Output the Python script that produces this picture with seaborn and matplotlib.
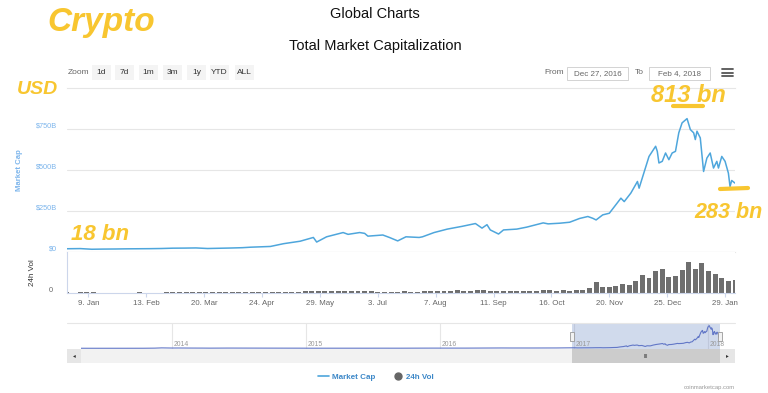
import pandas as pd
import matplotlib.pyplot as plt
import matplotlib.dates as mdates
from matplotlib.lines import Line2D
from matplotlib.patches import Rectangle
from matplotlib.transforms import ScaledTranslation, blended_transform_factory
import seaborn as sns

# market cap (billions USD)
cap_dates = ['2016-12-27', '2017-01-04', '2017-01-11', '2017-01-18', '2017-01-25',
             '2017-02-01', '2017-02-08', '2017-02-15', '2017-02-22', '2017-03-01',
             '2017-03-08', '2017-03-15', '2017-03-22', '2017-03-29', '2017-04-05',
             '2017-04-12', '2017-04-17', '2017-04-29', '2017-05-07', '2017-05-17',
             '2017-05-25', '2017-05-27', '2017-06-02', '2017-06-12', '2017-06-15',
             '2017-06-22', '2017-06-25', '2017-06-27', '2017-07-06', '2017-07-10',
             '2017-07-15', '2017-07-20', '2017-07-28', '2017-07-30', '2017-08-06',
             '2017-08-14', '2017-08-23', '2017-08-31', '2017-09-04', '2017-09-07',
             '2017-09-09', '2017-09-14', '2017-09-17', '2017-09-25', '2017-10-01',
             '2017-10-11', '2017-10-14', '2017-10-21', '2017-10-27', '2017-11-02',
             '2017-11-07', '2017-11-10', '2017-11-12', '2017-11-16', '2017-11-20',
             '2017-11-27', '2017-11-29', '2017-12-03', '2017-12-07', '2017-12-08',
             '2017-12-14', '2017-12-18', '2017-12-19', '2017-12-20', '2017-12-22',
             '2017-12-24', '2017-12-26', '2017-12-28', '2017-12-30', '2018-01-01',
             '2018-01-03', '2018-01-06', '2018-01-08', '2018-01-10', '2018-01-11',
             '2018-01-12', '2018-01-14', '2018-01-16', '2018-01-18', '2018-01-20',
             '2018-01-22', '2018-01-24', '2018-01-25', '2018-01-27', '2018-01-29',
             '2018-01-31', '2018-02-01', '2018-02-02', '2018-02-04']
cap_values = [18, 19, 15, 16, 16.5,
              17.5, 18, 18.5, 19.5, 21.5,
              22, 23, 19.5, 21, 22.5,
              24.5, 27.5, 32, 49, 64,
              87, 59, 91, 117, 106,
              117, 112, 95, 102, 87,
              66, 91, 87, 91, 117,
              138, 155, 172, 144, 165,
              133, 108, 133, 138, 150,
              176, 170, 174, 180, 203,
              215, 204, 194, 225, 235,
              327, 306, 358, 429, 388,
              582, 644, 613, 542, 552,
              603, 562, 603, 613, 726,
              787, 813, 746, 726, 685,
              736, 695, 490, 572, 603,
              511, 552, 511, 582, 552,
              480, 398, 435, 419]

# 24h volume (billions USD), one bar every 4 days from vol_start
vol_start = '2016-12-27'
vol_values = [0.4, 0.3, 0.9, 0.6, 0.5, 0.3, 0.2, 0.2, 0.2, 0.3,
              0.3, 0.4, 0.3, 0.3, 0.3, 0.4, 0.5, 0.5, 0.6, 0.5,
              0.8, 0.6, 0.7, 0.6, 0.5, 0.6, 0.5, 0.5, 0.6, 0.7,
              0.9, 1.0, 1.4, 1.5, 1.6, 1.8, 2.4, 3.8, 2.9, 2.5,
              2.6, 3.0, 3.5, 2.8, 2.9, 2.7, 2.4, 2.2, 2.1, 1.9,
              2.0, 2.7, 2.2, 2.0, 2.3, 2.4, 3.1, 3.4, 3.6, 4.5,
              4.0, 3.9, 5.2, 4.3, 3.8, 4.0, 3.2, 2.9, 2.7, 2.9,
              2.8, 3.0, 4.2, 4.5, 3.9, 4.2, 3.8, 4.5, 6.0, 8.0,
              20, 11, 10, 12, 17, 15, 22, 33, 28, 40,
              45, 30, 32, 42, 58, 45, 55, 40, 35, 27,
              22, 24]

# long history for the navigator (billions USD)
hist_dates = ['2013-04-28', '2013-06-15', '2013-09-01', '2013-10-15', '2013-11-15',
              '2013-12-04', '2013-12-31', '2014-01-20', '2014-02-25', '2014-03-25',
              '2014-04-15', '2014-06-05', '2014-09-15', '2014-12-15', '2015-01-15',
              '2015-03-15', '2015-06-15', '2015-07-15', '2015-09-15', '2015-11-05',
              '2015-12-15', '2016-03-15', '2016-06-17', '2016-07-15', '2016-09-15',
              '2016-11-15']
hist_values = [1.6, 1.3, 1.6, 2.2, 6, 15, 10, 11, 8.5, 7.5,
               6, 8.5, 6.5, 5, 3.5, 4, 4, 4.5, 4.2, 6,
               7, 7, 12, 11, 11, 12.5]

tick_dates = ['2017-01-09', '2017-02-13', '2017-03-20', '2017-04-24', '2017-05-29',
              '2017-07-03', '2017-08-07', '2017-09-11', '2017-10-16', '2017-11-20',
              '2017-12-25', '2018-01-29']
tick_labels = ['9. Jan', '13. Feb', '20. Mar', '24. Apr', '29. May', '3. Jul',
               '7. Aug', '11. Sep', '16. Oct', '20. Nov', '25. Dec', '29. Jan']
cap_ticks = [0, 250, 500, 750]
cap_tick_labels = ['$0', '$250B', '$500B', '$750B']
year_dates = ['2014-01-01', '2015-01-01', '2016-01-01', '2017-01-01', '2018-01-01']
year_labels = ['2014', '2015', '2016', '2017', '2018']
zoom_buttons = ['1d', '7d', '1m', '3m', '1y', 'YTD', 'ALL']
range_from = 'Dec 27, 2016'
range_to = 'Feb 4, 2018'

sns.set_theme(style='white')
plt.rcParams['font.family'] = ['Liberation Sans', 'DejaVu Sans']

line_blue = '#4ea6dc'
label_blue = '#7cb5ec'
grid_col = '#e6e6e6'
axis_col = '#ccd6eb'
yellow = '#f8c630'

cap = pd.DataFrame({'date': pd.to_datetime(cap_dates), 'cap': cap_values})
vol = pd.DataFrame({'date': pd.date_range(vol_start, periods=len(vol_values), freq='4D'),
                    'vol': vol_values})
hist = pd.DataFrame({'date': pd.to_datetime(hist_dates), 'cap': hist_values})
nav = pd.concat([hist, cap], ignore_index=True)

W, H = 768, 393
fig = plt.figure(figsize=(W / 100, H / 100), dpi=100)


def box(x0, y0, x1, y1):
    # pixel box -> figure rect
    return [x0 / W, 1 - y1 / H, (x1 - x0) / W, (y1 - y0) / H]


ax_cap = fig.add_axes(box(67, 88, 735, 251.7))
ax_vol = fig.add_axes(box(67, 251.7, 735, 292.7), sharex=ax_cap)
ax_nav = fig.add_axes(box(81, 323, 720, 349))
ax_scr = fig.add_axes(box(81, 349, 720, 363), sharex=ax_nav)

x_lo, x_hi = pd.Timestamp('2016-12-27'), pd.Timestamp('2018-02-04')

# market cap line
sns.lineplot(data=cap, x='date', y='cap', ax=ax_cap, color=line_blue, lw=1.1)
ax_cap.set_xlim(x_lo, x_hi)
ax_cap.set_ylim(0, 1000)
ax_cap.set_yticks(cap_ticks)
ax_cap.set_yticklabels(cap_tick_labels)
ax_cap.grid(axis='y', color=grid_col, lw=0.8)
ax_cap.grid(axis='x', visible=False)
for s in ['left', 'right']:
    ax_cap.spines[s].set_visible(False)
for s in ['top', 'bottom']:
    ax_cap.spines[s].set_color(grid_col)
    ax_cap.spines[s].set_linewidth(0.8)
ax_cap.tick_params(axis='y', length=0, pad=7, labelsize=5.3, labelcolor=label_blue)
ax_cap.tick_params(axis='x', bottom=False, labelbottom=False)
up = ScaledTranslation(0, 4 / 100, fig.dpi_scale_trans)
for lbl in ax_cap.get_yticklabels():
    lbl.set_transform(lbl.get_transform() + up)
ax_cap.set_xlabel('')
ax_cap.set_ylabel('Market Cap', color=label_blue, fontsize=5.6, fontweight='bold')
ax_cap.yaxis.set_label_coords((22.7 - 67) / 668, 0.5)

# volume bars
ax_vol.bar(vol['date'], vol['vol'], width=3.0, color='#6e6e6e', lw=0)
ax_vol.set_ylim(0, 77)
ax_vol.set_yticks([0])
ax_vol.set_yticklabels(['0'])
ax_vol.tick_params(axis='y', length=0, pad=10, labelsize=5.3, labelcolor='#666666')
for lbl in ax_vol.get_yticklabels():
    lbl.set_transform(lbl.get_transform() + ScaledTranslation(0, 3.4 / 100, fig.dpi_scale_trans))
ax_vol.set_xticks(pd.to_datetime(tick_dates))
ax_vol.set_xticklabels(tick_labels)
ax_vol.tick_params(axis='x', bottom=True, length=3, width=0.8, color=axis_col,
                   pad=2.5, labelsize=5.7, labelcolor='#666666')
ax_vol.spines['top'].set_visible(False)
ax_vol.spines['right'].set_visible(False)
for s in ['left', 'bottom']:
    ax_vol.spines[s].set_color(axis_col)
    ax_vol.spines[s].set_linewidth(0.8)
ax_vol.set_ylabel('24h Vol', color='#333333', fontsize=5.8)
ax_vol.yaxis.set_label_coords((36 - 67) / 668, 0.5)
ax_vol.set_xlim(x_lo, x_hi)

# navigator
sns.lineplot(data=nav, x='date', y='cap', ax=ax_nav, color='#6277c7', lw=0.8)
ax_nav.set_xlim(pd.Timestamp('2013-04-28'), x_hi)
ax_nav.set_ylim(-25, 910)
ax_nav.set_xticks([])
ax_nav.set_yticks([])
ax_nav.set_xlabel('')
ax_nav.set_ylabel('')
for s in ax_nav.spines.values():
    s.set_visible(False)
ax_nav.axvspan(x_lo, x_hi, color='#6685c2', alpha=0.3, lw=0)
bt = blended_transform_factory(ax_nav.transData, ax_nav.transAxes)
right2 = ScaledTranslation(2 / 100, 0, fig.dpi_scale_trans)
for d, t in zip(year_dates, year_labels):
    ax_nav.axvline(pd.Timestamp(d), color=grid_col, lw=0.8, zorder=0)
    ax_nav.text(pd.Timestamp(d), 0.19, t, transform=bt + right2, fontsize=4.9,
                color='#999999', ha='left', va='center')
for d in [x_lo, x_hi]:
    ax_nav.add_patch(Rectangle((mdates.date2num(d) - 5.5, 0.31), 11, 0.35,
                               transform=bt, facecolor='#f2f2f2',
                               edgecolor='#999999', lw=0.6, zorder=5, clip_on=False))

# scrollbar
ax_scr.set_xlim(pd.Timestamp('2013-04-28'), x_hi)
ax_scr.set_ylim(0, 1)
ax_scr.set_facecolor('#f2f2f2')
ax_scr.axvspan(x_lo, x_hi, color='#cccccc', lw=0)
ax_scr.text(x_lo + (x_hi - x_lo) / 2, 0.5, 'III', fontsize=4, color='#333333',
            ha='center', va='center')
ax_scr.add_patch(Rectangle((-14 / 639, 0), 14 / 639, 1, transform=ax_scr.transAxes,
                           facecolor='#e6e6e6', lw=0, clip_on=False))
ax_scr.add_patch(Rectangle((1, 0), 15 / 639, 1, transform=ax_scr.transAxes,
                           facecolor='#e6e6e6', lw=0, clip_on=False))
ax_scr.text(-7 / 639, 0.5, '◂', transform=ax_scr.transAxes, fontsize=4,
            ha='center', va='center', color='#333333', family='DejaVu Sans')
ax_scr.text(1 + 7.5 / 639, 0.5, '▸', transform=ax_scr.transAxes, fontsize=4,
            ha='center', va='center', color='#333333', family='DejaVu Sans')
ax_scr.set_xticks([])
ax_scr.set_yticks([])
for s in ax_scr.spines.values():
    s.set_visible(False)

fig.add_artist(Line2D([67 / W, 735 / W], [1 - 323 / H] * 2, color=grid_col, lw=0.8))

# titles
fig.text(375 / W, 1 - 14 / H, 'Global Charts', ha='center', va='center',
         fontsize=10.5, color='#111111')
fig.text(375 / W, 1 - 46 / H, 'Total Market Capitalization', ha='center', va='center',
         fontsize=10.5, color='#111111')

# range selector
fig.text(68 / W, 1 - 73 / H, 'Zoom', fontsize=6, color='#666666', va='center')
btn_x = [92, 115, 139, 163, 187, 210, 235]
for bx, lab in zip(btn_x, zoom_buttons):
    fig.add_artist(Rectangle((bx / W, 1 - 80 / H), 19 / W, 15 / H,
                             facecolor='#f4f4f4', lw=0))
    fig.text((bx + 9.5) / W, 1 - 72.5 / H, lab, fontsize=6, color='#333333',
             ha='center', va='center')
fig.text(554 / W, 1 - 73 / H, 'From', fontsize=6, color='#666666',
         ha='center', va='center')
fig.text(639 / W, 1 - 73 / H, 'To', fontsize=6, color='#666666',
         ha='center', va='center')
for x0, x1, lab in [(567, 628, range_from), (649, 710, range_to)]:
    fig.add_artist(Rectangle((x0 / W, 1 - 80 / H), (x1 - x0) / W, 13 / H,
                             facecolor='white', edgecolor='#cccccc', lw=0.6))
    fig.text((x0 + x1) / 2 / W, 1 - 73.5 / H, lab, fontsize=5.8, color='#666666',
             ha='center', va='center')
for yy in [69, 72.5, 76]:
    fig.add_artist(Line2D([722 / W, 733 / W], [1 - yy / H] * 2, color='#555555', lw=1.3))

# legend
handles = [Line2D([], [], color=line_blue, lw=1.2),
           Line2D([], [], marker='o', color='#666666', ls='', markersize=5)]
leg = fig.legend(handles, ['Market Cap', '24h Vol'], loc='center',
                 bbox_to_anchor=(376 / W, 1 - 377 / H), ncol=2, frameon=False,
                 fontsize=5.8, handlelength=1.4, handletextpad=0.4, columnspacing=2.0)
for t in leg.get_texts():
    t.set_color('#3d88c8')
    t.set_fontweight('bold')

fig.text(735 / W, 1 - 388 / H, 'coinmarketcap.com', fontsize=4.2, color='#999999',
         ha='right', va='center')

# handwritten notes
hand = dict(color=yellow, fontweight='bold', style='italic', va='center', ha='left')
fig.text(47 / W, 1 - 22 / H, 'Crypto', fontsize=24, **hand)
fig.text(17 / W, 1 - 90 / H, 'USD', fontsize=14, **hand)
fig.text(71 / W, 1 - 234 / H, '18 bn', fontsize=16, **hand)
fig.text(651 / W, 1 - 95 / H, '813 bn', fontsize=17, **hand)
fig.text(694 / W, 1 - 212 / H, '283 bn', fontsize=15.5, **hand)
fig.add_artist(Line2D([673 / W, 703 / W], [1 - 106 / H] * 2, color=yellow, lw=3,
                      solid_capstyle='round'))
fig.add_artist(Line2D([720 / W, 748 / W], [1 - 189 / H, 1 - 188 / H], color=yellow,
                      lw=3, solid_capstyle='round'))

fig.savefig('out.png', dpi=100)
